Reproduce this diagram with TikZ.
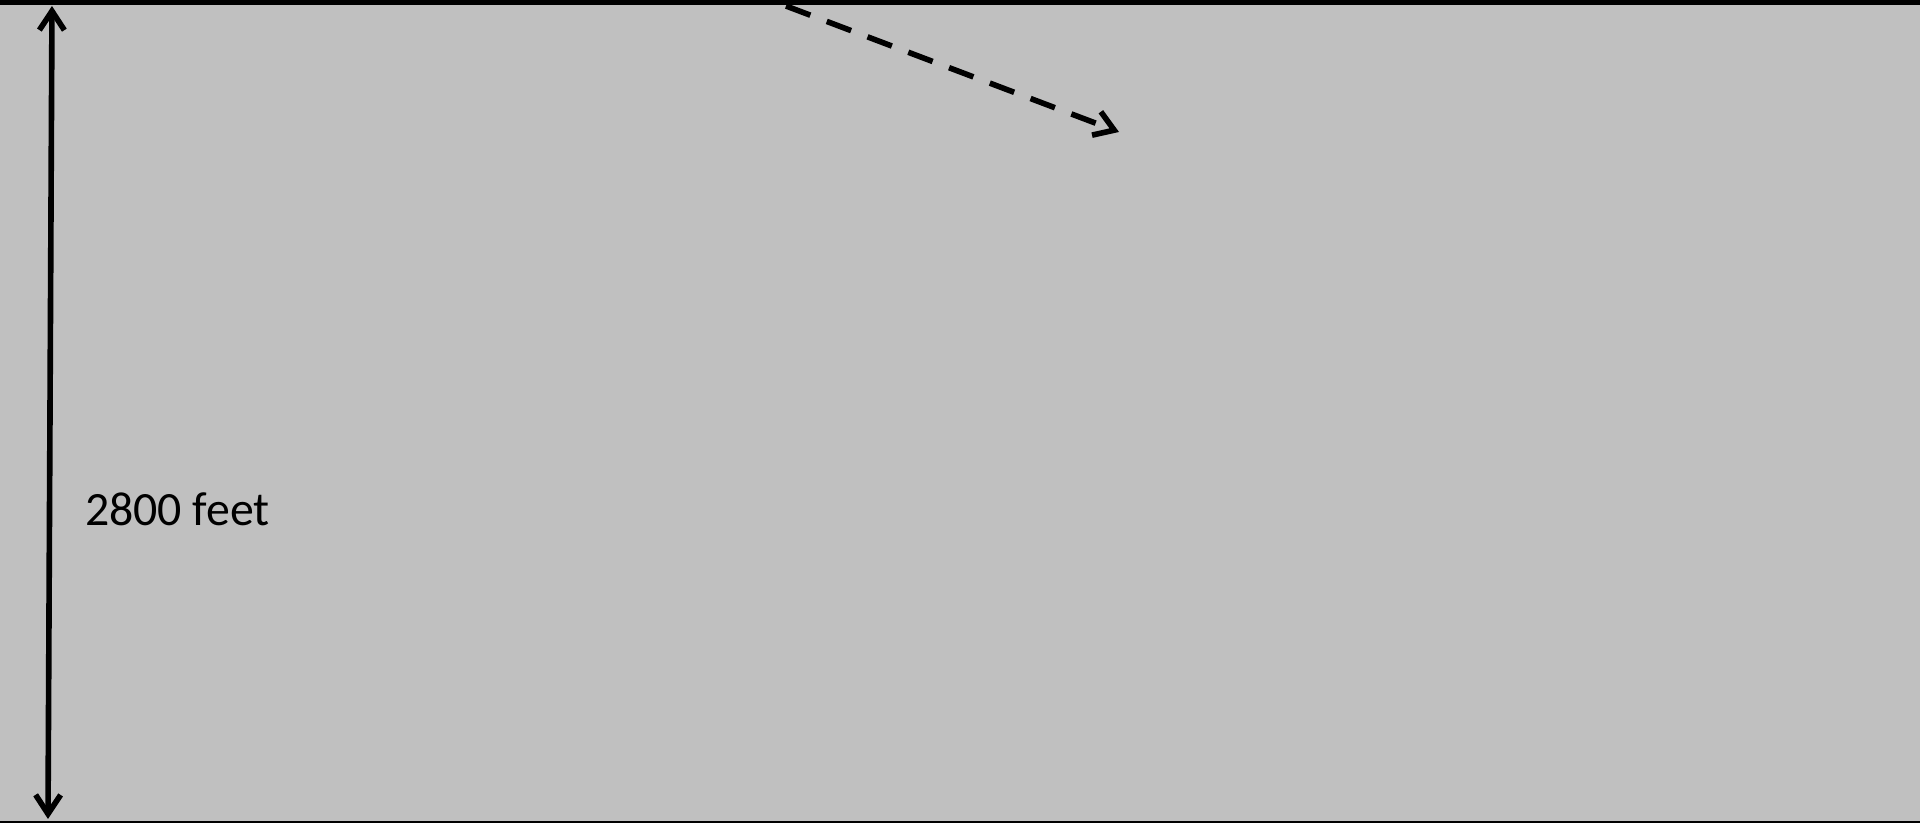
\documentclass[tikz,border=0pt]{standalone}
\usepackage{xcolor}
\usepackage{fontspec}
\setmainfont{Carlito}
\usepackage{tikz}
\usetikzlibrary{arrows.meta}
\definecolor{SiteGrey}{HTML}{C0C0C0}
\definecolor{SiteInk}{HTML}{000000}
\tikzset{
  dimline/.style={SiteInk,line width=1.6pt,line cap=round,
    {Straight Barb[length=1.9mm,width=2.5mm,line width=1.6pt]}-{Straight Barb[length=1.9mm,width=2.5mm,line width=1.6pt]}},
  pathline/.style={SiteInk,line width=1.6pt,dash pattern=on 7.4pt off 5pt,
    -{Straight Barb[length=1.9mm,width=2.5mm,line width=1.6pt]}}
}

\begin{document}
\begin{tikzpicture}[x=1cm,y=1cm]
\path[use as bounding box] (0,0) rectangle (19.20,8.23);
\fill[SiteGrey] (0,0) rectangle (19.20,8.23);
\fill[SiteInk] (0,8.183) rectangle (19.20,8.23);
\fill[SiteInk] (0,0) rectangle (19.20,0.02);
\coordinate (depthlow) at (0.48,0.04);
\coordinate (depthtop) at (0.52,8.17);
\draw[dimline] (depthlow) -- (depthtop);
\node[anchor=west,inner sep=0pt,font=\fontsize{13.6}{16}\selectfont] (depthlabel) at (0.845,3.14) {2800 feet};
\coordinate (flowstart) at (7.86,8.17);
\coordinate (flowend) at (11.19,6.91);
\draw[pathline] (flowstart) -- (flowend);
\end{tikzpicture}
\end{document}
